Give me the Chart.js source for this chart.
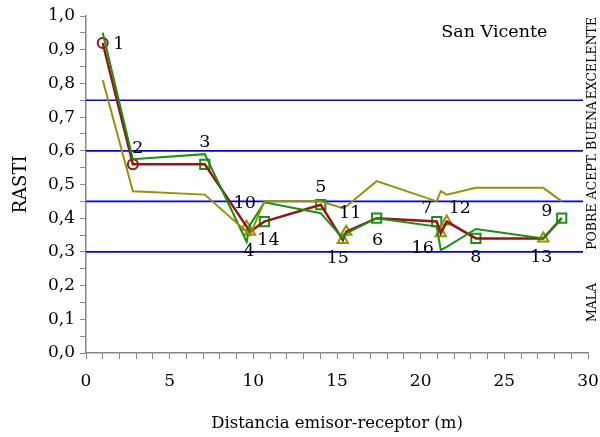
<!DOCTYPE html>
<html>
<head>
<meta charset="utf-8">
<script src="https://cdn.jsdelivr.net/npm/chart.js@4.4.0/dist/chart.umd.min.js"></script>
<style>
    html, body { margin: 0; padding: 0; background: #fff; }
</style>
</head>
<body>
<canvas id="rastiChart" width="600" height="437"></canvas>
<script>
/* global Chart */

// measuring points, sorted by distance (m)
var pointNames = ['1', '2', '3', '10', '4', '14', '5', '15', '11', '6', '7', '16', '12', '8', '13', '9'];
var distance = [1.0, 2.8, 7.1, 9.6, 9.8, 10.66, 14.03, 15.35, 15.55, 17.37, 20.96, 21.2, 21.56, 23.3, 27.33, 28.43];
// RASTI curves
var rastiRed = [0.92, 0.56, 0.56, 0.375, 0.36, 0.39, 0.44, 0.335, 0.36, 0.40, 0.39, 0.355, 0.39, 0.34, 0.34, 0.40];
var rastiGreen = [0.95, 0.575, 0.59, 0.33, 0.38, 0.447, 0.415, 0.34, 0.355, 0.40, 0.375, 0.306, 0.315, 0.368, 0.34, 0.40];
var rastiOlive = [0.81, 0.48, 0.47, 0.36, 0.35, 0.45, 0.45, 0.43, 0.435, 0.51, 0.45, 0.48, 0.47, 0.49, 0.49, 0.45];
// point group: 0 = circle, 1 = square, 2 = triangle
var pointGroup = [0, 0, 1, 2, 2, 1, 1, 2, 2, 1, 1, 2, 2, 1, 2, 1];
// quality bands
var bandLimits = [0, 0.3, 0.45, 0.6, 0.75, 1.0];
var bandNames = ['MALA', 'POBRE', 'ACEPT.', 'BUENA', 'EXCELENTE'];
var xTicks = [0, 5, 10, 15, 20, 25, 30];

var RED = '#a01212', GREEN = '#129412', OLIVE = '#949400', BLUE = '#0000ff', AXIS = '#868686';
var SERIF = 'DejaVu Serif';

var groupStyle = ['circle', 'rect', 'triangle'];
var groupColor = [RED, GREEN, OLIVE];
var groupRadius = [5, 6.5, 6];

// where each number sits around its marker (px)
var labelOffsets = [[16, 1], [5, -16], [0, -22], [-2, -23], [-1, 20], [4, 19], [0, -17], [-5, 18],
    [4, -18], [1, 22], [-10, -13], [-18, 15], [13, -13], [0, 19], [-2, 19], [-15, -7]];

function xy(values) {
    return distance.map(function(d, i) { return {x: d, y: values[i]}; });
}

function curve(values, color, width) {
    return {
        data: xy(values),
        showLine: true,
        borderColor: color,
        borderWidth: width,
        pointRadius: 0,
        pointHoverRadius: 0,
        tension: 0
    };
}

var annotations = {
    id: 'annotations',
    beforeDatasetsDraw: function(chart) {
        var ctx = chart.ctx, area = chart.chartArea, y = chart.scales.y;
        ctx.save();
        ctx.strokeStyle = BLUE;
        ctx.lineWidth = 1.7;
        for (var i = 1; i < bandLimits.length - 1; i++) {
            var py = y.getPixelForValue(bandLimits[i]);
            ctx.beginPath();
            ctx.moveTo(area.left, py);
            ctx.lineTo(area.right - 5, py);
            ctx.stroke();
        }
        ctx.restore();
    },
    afterDraw: function(chart) {
        var ctx = chart.ctx, x = chart.scales.x, y = chart.scales.y;
        var meta = chart.getDatasetMeta(3);
        ctx.save();
        ctx.fillStyle = '#000';
        ctx.textAlign = 'center';
        ctx.textBaseline = 'middle';

        ctx.font = '17.5px "' + SERIF + '"';
        meta.data.forEach(function(p, i) {
            ctx.fillText(pointNames[i], p.x + labelOffsets[i][0], p.y + labelOffsets[i][1]);
        });

        ctx.fillText('San Vicente', x.getPixelForValue(24.4), y.getPixelForValue(0.95));

        ctx.font = '12.5px "' + SERIF + '"';
        for (var b = 0; b < bandNames.length; b++) {
            var cy = (y.getPixelForValue(bandLimits[b]) + y.getPixelForValue(bandLimits[b + 1])) / 2;
            ctx.save();
            ctx.translate(593, cy);
            ctx.rotate(-Math.PI / 2);
            ctx.fillText(bandNames[b], 0, 0);
            ctx.restore();
        }
        ctx.restore();
    }
};

var ctx = document.getElementById('rastiChart').getContext('2d');
var rastiChart = new Chart(ctx, {
    type: 'scatter',
    data: {
        datasets: [
            curve(rastiOlive, OLIVE, 2),
            curve(rastiGreen, GREEN, 2),
            curve(rastiRed, RED, 2.5),
            {
                data: xy(rastiRed),
                showLine: false,
                pointStyle: pointGroup.map(function(g) { return groupStyle[g]; }),
                pointRadius: pointGroup.map(function(g) { return groupRadius[g]; }),
                pointBorderColor: pointGroup.map(function(g) { return groupColor[g]; }),
                pointBackgroundColor: 'rgba(0,0,0,0)',
                pointBorderWidth: 2
            }
        ]
    },
    options: {
        responsive: false,
        animation: false,
        devicePixelRatio: 1,
        layout: { padding: { top: 16, right: 12, left: 0, bottom: 0 } },
        plugins: {
            legend: { display: false },
            tooltip: { enabled: false }
        },
        scales: {
            x: {
                type: 'linear',
                min: 0,
                max: 30,
                afterFit: function(s) {
                    s.height = 84;
                    s.paddingLeft = 0;
                    s.paddingRight = 0;
                },
                grid: { drawOnChartArea: false, drawTicks: true, tickLength: 6, color: AXIS },
                border: { display: true, color: AXIS, width: 1.5 },
                afterBuildTicks: function(s) {
                    s.ticks = [];
                    for (var v = 0; v <= 30; v++) s.ticks.push({value: v});
                },
                ticks: {
                    autoSkip: false,
                    maxRotation: 0,
                    padding: 12,
                    color: '#000',
                    font: { family: SERIF, size: 17 },
                    callback: function(v) { return xTicks.indexOf(v) >= 0 ? String(v) : ''; }
                },
                title: {
                    display: true,
                    text: 'Distancia emisor-receptor (m)',
                    color: '#000',
                    font: { family: SERIF, size: 16.5 },
                    padding: { top: 0, bottom: 3 }
                }
            },
            y: {
                type: 'linear',
                min: 0,
                max: 1,
                afterFit: function(s) { s.width = 86; },
                grid: { drawOnChartArea: false, drawTicks: true, tickLength: 6, color: AXIS },
                border: { display: true, color: AXIS, width: 1.5 },
                afterBuildTicks: function(s) {
                    s.ticks = [];
                    for (var k = 0; k <= 20; k++) s.ticks.push({value: k / 20});
                },
                ticks: {
                    autoSkip: false,
                    padding: 5,
                    color: '#000',
                    font: { family: SERIF, size: 17 },
                    callback: function(v) {
                        var t = Math.round(v * 20);
                        return t % 2 === 0 ? (t / 20).toFixed(1).replace('.', ',') : '';
                    }
                },
                title: {
                    display: true,
                    text: 'RASTI',
                    color: '#000',
                    font: { family: SERIF, size: 18 },
                    padding: { top: 11, bottom: 0 }
                }
            }
        }
    },
    plugins: [annotations]
});
</script>
</body>
</html>
